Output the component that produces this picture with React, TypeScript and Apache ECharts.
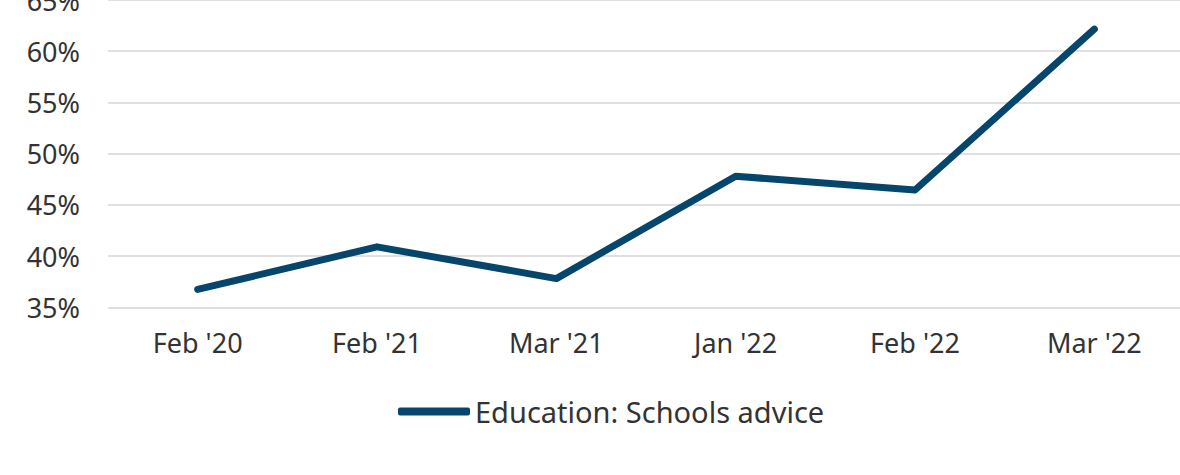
import React, { useEffect, useRef } from "react";
import * as echarts from "echarts";

const categories = ["Feb '20", "Feb '21", "Mar '21", "Jan '22", "Feb '22", "Mar '22"];
const seriesName = "Education: Schools advice";
const values = [36.75, 40.9, 37.8, 47.8, 46.45, 62.15];

export default function App() {
  const ref = useRef<HTMLDivElement>(null);
  useEffect(() => {
    const chart = echarts.init(ref.current!, null, { renderer: "svg" });
    const font = "'Noto Sans', sans-serif";
    chart.setOption({
      animation: false,
      grid: { left: 108, top: 0, width: 1076, height: 307.3, containLabel: false, outerBoundsMode: "none" },
      xAxis: {
        type: "category",
        data: categories,
        boundaryGap: true,
        axisLine: { show: false },
        axisTick: { show: false },
        axisLabel: { color: "#333333", fontSize: 27, fontFamily: font, margin: 22 },
      },
      yAxis: {
        type: "value",
        min: 35,
        max: 65,
        interval: 5,
        axisLine: { show: false },
        axisTick: { show: false },
        axisLabel: { color: "#333333", fontSize: 27, fontFamily: font, margin: 28, formatter: "{value}%" },
        splitLine: { lineStyle: { color: "#e0e0e0", width: 2 } },
      },
      legend: {
        left: 398,
        top: 397,
        padding: 0,
        icon: "roundRect",
        itemWidth: 72,
        itemHeight: 8,
        itemGap: 5,
        textStyle: { color: "#333333", fontSize: 29, fontFamily: font },
        data: [seriesName],
      },
      series: [
        {
          name: seriesName,
          type: "line",
          data: values,
          symbol: "none",
          lineStyle: { color: "#07466c", width: 7, cap: "round", join: "round" },
          itemStyle: { color: "#07466c" },
        },
      ],
    });
    return () => chart.dispose();
  }, []);
  return <div ref={ref} style={{ position: "fixed", left: 0, top: 0, width: 1180, height: 475, background: "#fff" }} />;
}
